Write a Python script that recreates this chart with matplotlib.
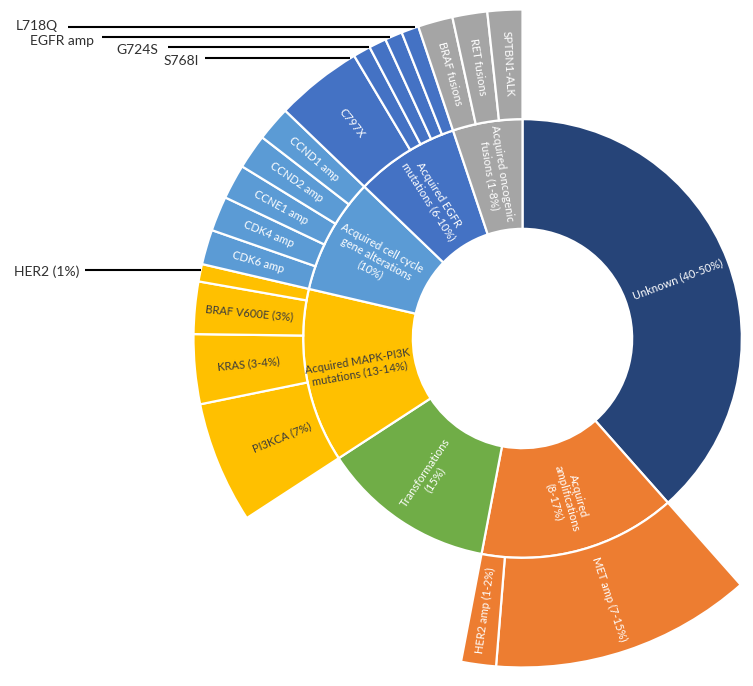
import matplotlib
matplotlib.use("Agg")
import matplotlib.pyplot as plt
import numpy as np

plt.rcParams['font.family'] = ['Lato', 'DejaVu Sans']

# ---------------- data ----------------
parent_labels = ["Unknown (40-50%)",
                 "Acquired\namplifications\n(8-17%)",
                 "Transformations\n(15%)",
                 "Acquired MAPK-PI3K\nmutations (13-14%)",
                 "Acquired cell cycle\ngene alterations\n(10%)",
                 "Acquired EGFR\nmutations (6-10%)",
                 "Acquired oncogenic\nfusions (1-8%)"]
parent_colors = ["#264478", "#ED7D31", "#70AD47", "#FFC000", "#5B9BD5", "#4472C4", "#A5A5A5"]

unknown_value = 45
transformations_value = 15

amp_labels = ["MET amp (7-15%)", "HER2 amp (1-2%)"]
amp_values = [15, 2]
mapk_labels = ["PI3KCA (7%)", "KRAS (3-4%)", "BRAF V600E (3%)", "HER2 (1%)"]
mapk_values = [7, 4, 3, 1]
cell_labels = ["CDK6 amp", "CDK4 amp", "CCNE1 amp", "CCND2 amp", "CCND1 amp"]
cell_values = [2, 2, 2, 2, 2]
egfr_labels = ["C797X", "S768I", "G724S", "EGFR amp", "L718Q"]
egfr_values = [5, 1, 1, 1, 1]
fusion_labels = ["BRAF fusions", "RET fusions", "SPTBN1-ALK"]
fusion_values = [2, 2, 2]

# children per parent (None = leaf, no outer ring)
children = [None,
            (amp_labels, amp_values),
            None,
            (mapk_labels, mapk_values),
            (cell_labels, cell_values),
            (egfr_labels, egfr_values),
            (fusion_labels, fusion_values)]

parent_values = []
for i, ch in enumerate(children):
    if ch is None:
        parent_values.append(unknown_value if i == 0 else transformations_value)
    else:
        parent_values.append(sum(ch[1]))

# outer ring
outer_values, outer_labels, outer_colors, outer_visible = [], [], [], []
for i, ch in enumerate(children):
    if ch is None:
        outer_values.append(parent_values[i]); outer_labels.append("")
        outer_colors.append("none"); outer_visible.append(False)
    else:
        for lab, v in zip(*ch):
            outer_values.append(v); outer_labels.append(lab)
            outer_colors.append(parent_colors[i]); outer_visible.append(True)

# ---------------- layout ----------------
W, H = 753, 686
CX, CY, R = 522.5, 338.5, 329.0   # pixel centre / outer radius


def px(x):
    return (x - CX) / R


def py(y):
    return (CY - y) / R


fig = plt.figure(figsize=(W / 100, H / 100), dpi=100)
ax = fig.add_axes([0, 0, 1, 1])

wp = dict(width=1 / 3, edgecolor="white", linewidth=1.6)
w1, _ = ax.pie(parent_values, radius=2 / 3, startangle=90, counterclock=False,
               colors=parent_colors, wedgeprops=wp)
w2, _ = ax.pie(outer_values, radius=1.0, startangle=90, counterclock=False,
               colors=["white" if c == "none" else c for c in outer_colors], wedgeprops=wp)
for w, vis in zip(w2, outer_visible):
    if not vis:
        w.set_visible(False)

ax.set_aspect("equal")
ax.set_xlim(px(0), px(W))
ax.set_ylim(py(H), py(0))
ax.axis("off")

DARK = "#3b3b3b"


def place(values, labels, colors_txt, radius, fs, radii_override=None):
    total = float(sum(values))
    cum = 0.0
    for k, (v, lab) in enumerate(zip(values, labels)):
        theta = 360.0 * (cum + v / 2.0) / total
        cum += v
        if not lab:
            continue
        phi = 90.0 - theta
        phi = (phi + 180.0) % 360.0 - 180.0
        if phi > 90:
            rot = phi - 180.0
        elif phi < -90:
            rot = phi + 180.0
        else:
            rot = phi
        r = radius
        if radii_override and lab in radii_override:
            r = radii_override[lab]
        x = r * np.cos(np.radians(phi))
        y = r * np.sin(np.radians(phi))
        ax.text(x, y, lab, ha="center", va="center", rotation=rot,
                rotation_mode="anchor", fontsize=fs, color=colors_txt[k],
                linespacing=1.15)


inner_txt_colors = [DARK if c == "#FFC000" else "white" for c in parent_colors]
place(parent_values, parent_labels, inner_txt_colors, 0.505, 8)

external = {
    # label: (leader y px, text centre y px, text right px, line start px)
    "HER2 (1%)": (270.0, 270.5, 79.0, 85.0),
    "S768I": (58.5, 60.5, 199.0, 205.0),
    "G724S": (47.5, 49.5, 158.0, 168.0),
    "EGFR amp": (37.5, 40.0, 94.0, 102.0),
    "L718Q": (27.5, 25.5, 58.0, 68.0),
}
outer_txt_labels = ["" if l in external else l for l in outer_labels]
outer_txt_colors = [DARK if c == "#FFC000" else "white" for c in outer_colors]
place(outer_values, outer_txt_labels, outer_txt_colors, 0.835, 8,
      radii_override={"PI3KCA (7%)": 0.79})

for lab, (ly, ty, tx, lx) in external.items():
    y = py(ly)
    xend = -np.sqrt(max(0.0, 1.0 - y * y))
    ax.plot([px(lx), xend], [y, y], color="black", lw=1.5, solid_capstyle="butt")
    ax.text(px(tx), py(ty), lab, ha="right", va="center_baseline", fontsize=10,
            color="#303030")

fig.savefig("out.png", dpi=100, facecolor="white")
